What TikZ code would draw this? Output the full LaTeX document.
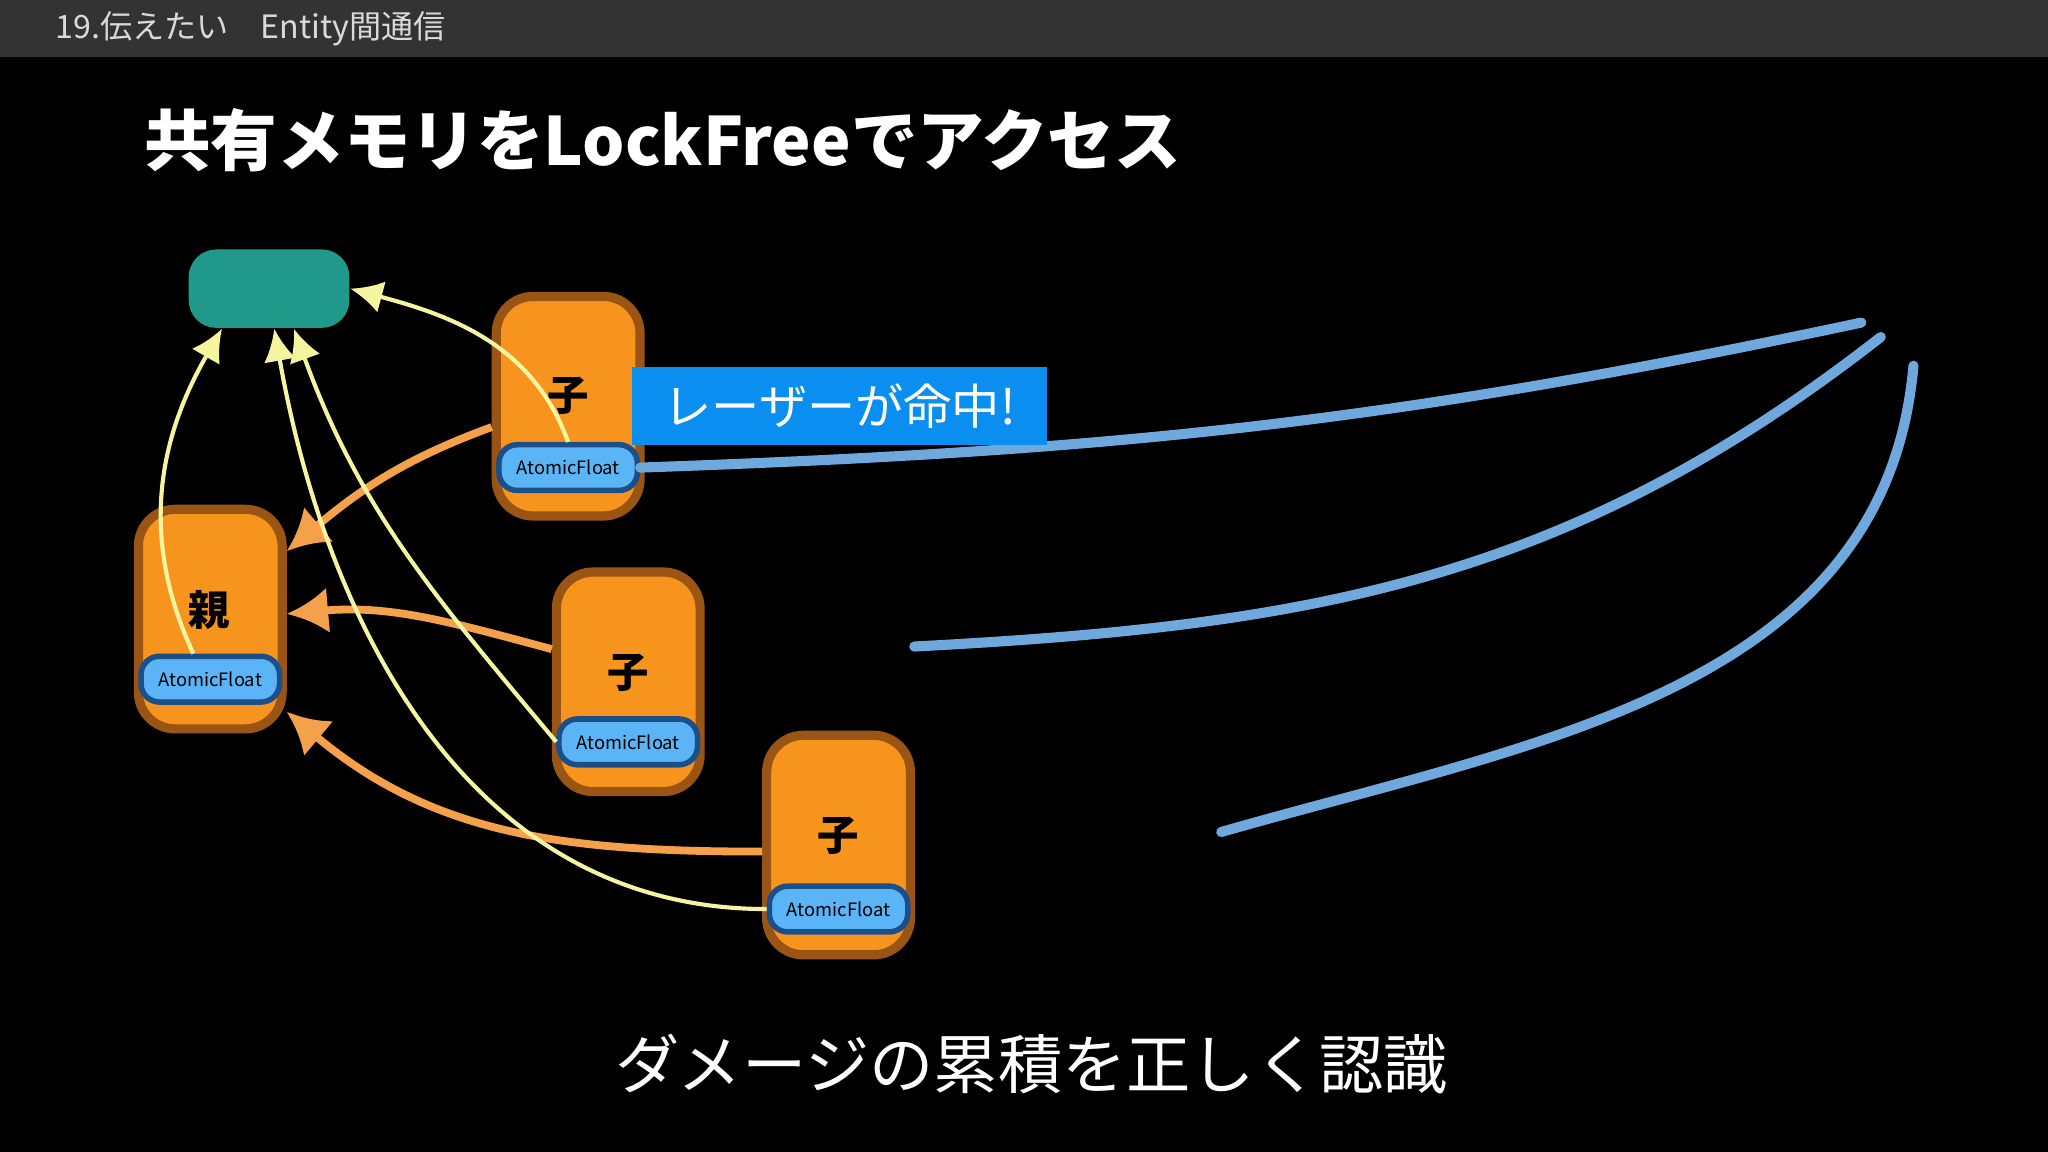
\documentclass[tikz,border=0pt]{standalone}
\usepackage{fontspec}
\setmainfont{Noto Sans CJK JP}
\usetikzlibrary{positioning,arrows.meta}
\definecolor{bar}{HTML}{333333}
\definecolor{teal}{HTML}{20988A}
\definecolor{orng}{HTML}{F7941D}
\definecolor{brwn}{HTML}{9A5515}
\definecolor{sky}{HTML}{5AB4F5}
\definecolor{navy}{HTML}{1A4F8A}
\definecolor{lbl}{HTML}{0A8FF0}
\definecolor{laser}{HTML}{6FA8DC}
\definecolor{oarr}{HTML}{F5A04A}
\definecolor{yarr}{HTML}{F5F5A0}
\tikzset{
  ent/.style={draw=brwn, line width=2pt, fill=orng, rounded corners=8pt, minimum width=1.1cm, minimum height=1.68cm},
  af/.style={draw=navy, line width=1.2pt, fill=sky, rounded corners=4pt, minimum width=1.06cm, minimum height=0.35cm, font=\fontsize{4}{5}\selectfont, inner sep=0pt},
  kanji/.style={font=\fontsize{9}{10}\selectfont\bfseries},
  oarrow/.style={oarr, line width=1.7pt, -{Latex[length=9pt,width=10pt]}},
  yarrow/.style={yarr, line width=0.9pt, -{Latex[length=7pt,width=7pt]}},
  beam/.style={laser, line width=2.2pt, line cap=round}
}
\begin{document}
\begin{tikzpicture}[x=0.01cm, y=-0.01cm]
\useasboundingbox (0,0) rectangle (1568,882);
\fill[black] (0,0) rectangle (1568,882);
\fill[bar] (0,0) rectangle (1568,44);
\node[anchor=west, text=white!85!black, font=\fontsize{7}{8}\selectfont] (head) at (30,22) {19.伝えたい\quad Entity間通信};
\node[anchor=west, text=white, font=\fontsize{14.5}{16}\selectfont\bfseries] (title) at (98,107) {共有メモリをLockFreeでアクセス};

% shared memory
\node[fill=teal, rounded corners=6pt, minimum width=1.23cm, minimum height=0.6cm] (mem) at (206,221) {};

% entities
\node[ent] (parent) at (161,474) {};
\node[kanji] (ptxt) at (160,467) {親};
\node[af] (paf) at (161,520) {AtomicFloat};

\node[ent] (c1) at (435,311) {};
\node[kanji] (c1txt) at (435,303) {子};
\node[af] (c1af) at (435,358) {AtomicFloat};

\node[ent] (c2) at (481,522) {};
\node[kanji] (c2txt) at (481,515) {子};
\node[af] (c2af) at (481,568) {AtomicFloat};

\node[ent] (c3) at (642,647) {};
\node[kanji] (c3txt) at (642,640) {子};
\node[af] (c3af) at (642,696) {AtomicFloat};

% lasers
\coordinate (l1) at (1425,247);
\coordinate (l2) at (1440,258);
\coordinate (l3) at (1465,280);
\coordinate (e2) at (700,495);
\coordinate (e3) at (935,637);
\draw[beam] (l1) to[out=192, in=2] (c1af.east);
\draw[beam] (l2) to[out=218, in=3] (e2);
\draw[beam] (l3) to[out=265, in=16] (e3);

\node[fill=lbl, text=white, anchor=west, minimum height=0.6cm, minimum width=3.18cm, font=\fontsize{10.5}{12}\selectfont] (hit) at (483,311) {レーザーが命中!};

% writes to parent
\draw[oarrow] (c1.west |- 0,327) to[out=200, in=40] (parent.east |- 0,422);
\draw[oarrow] (c2.west |- 0,497) to[out=165, in=5] (parent.east |- 0,470);
\draw[oarrow] (c3.west |- 0,652) to[out=180, in=-40] (parent.east |- 0,545);

% reads of shared memory
\draw[yarrow] ([xshift=-0.13cm]paf.north) to[out=115, in=-120] ([xshift=-0.36cm]mem.south);
\draw[yarrow] (c1af.north) to[out=110, in=-15] (mem.east);
\draw[yarrow] (c2af.west) to[out=130, in=-70] ([xshift=0.19cm]mem.south);
\draw[yarrow] (c3af.west) to[out=180, in=-80] ([xshift=0.04cm]mem.south);

\node[text=white, font=\fontsize{14}{16}\selectfont] (bottom) at (790,815) {ダメージの累積を正しく認識};
\end{tikzpicture}
\end{document}
